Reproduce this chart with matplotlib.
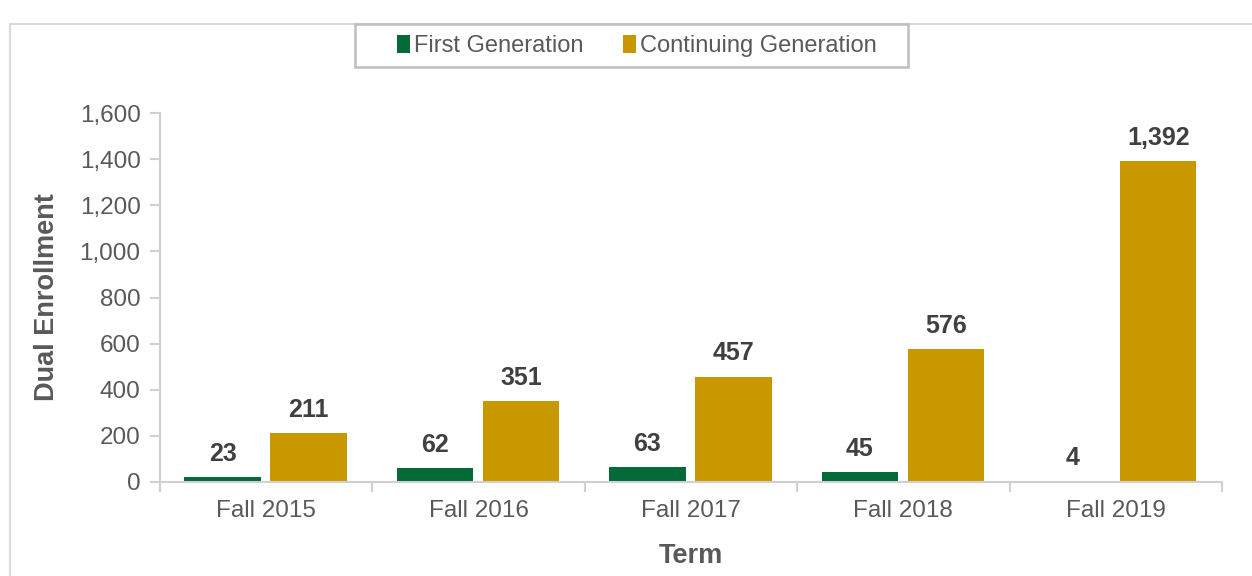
import matplotlib.pyplot as plt
import numpy as np
from matplotlib.patches import Rectangle

plt.rcParams['font.family'] = ['Liberation Sans', 'DejaVu Sans']

# данные
terms = ['Fall 2015', 'Fall 2016', 'Fall 2017', 'Fall 2018', 'Fall 2019']
first_gen = [23, 62, 63, 45, 4]
continuing_gen = [211, 351, 457, 576, 1392]

green = '#046A38'
gold = '#C99700'
grey_txt = '#595959'
dark_txt = '#404040'
axis_grey = '#D0D0D0'

W, H = 1252, 576
fig = plt.figure(figsize=(W / 100, H / 100), dpi=100)
ax = fig.add_axes([0.1278, 0.1632, 0.976 - 0.1278, 0.8038 - 0.1632])

# рамка вокруг диаграммы
fig.patches.append(Rectangle((10 / W, -0.01), 1.0, 1 - 24 / H + 0.01,
                             transform=fig.transFigure, fill=False,
                             edgecolor='#D9D9D9', linewidth=1.5))

x = np.arange(len(terms))
w = 0.36
b1 = ax.bar(x - 0.205, first_gen, w, color=green, label='First Generation')
b2 = ax.bar(x + 0.2, continuing_gen, w, color=gold, label='Continuing Generation')

for bars in (b1, b2):
    for rect in bars:
        h = rect.get_height()
        ax.annotate(f'{h:,}', (rect.get_x() + rect.get_width() / 2, h),
                    xytext=(0, 8), textcoords='offset points',
                    ha='center', va='bottom', fontsize=18, fontweight='bold',
                    color=dark_txt)

ax.set_xlim(-0.5, 4.5)
ax.set_ylim(0, 1600)
ax.set_yticks(range(0, 1601, 200))
ax.set_yticklabels([f'{v:,}' for v in range(0, 1601, 200)])
ax.set_xticks(x)
ax.set_xticklabels(terms)
ax.set_xticks(np.arange(-0.5, 5, 1), minor=True)
ax.tick_params(axis='x', which='major', length=0, pad=13, labelsize=17.5, labelcolor=grey_txt)
ax.tick_params(axis='x', which='minor', length=7, color=axis_grey, width=1.5)
ax.tick_params(axis='y', length=7, color=axis_grey, width=1.5, pad=7,
               labelsize=17.5, labelcolor=grey_txt)

for s in ['top', 'right']:
    ax.spines[s].set_visible(False)
for s in ['left', 'bottom']:
    ax.spines[s].set_color(axis_grey)
    ax.spines[s].set_linewidth(1.5)

ax.set_xlabel('Term', fontsize=19.5, fontweight='bold', color=grey_txt, labelpad=15)
ax.set_ylabel('Dual Enrollment', fontsize=19.5, fontweight='bold', color=grey_txt, labelpad=14)

# легенда без рамки + отдельная рамка пошире
leg = fig.legend(loc='center', bbox_to_anchor=(637 / W, 1 - 46 / H), ncol=2,
                 fontsize=17, frameon=False, handlelength=0.55,
                 handleheight=0.8, handletextpad=0.15, columnspacing=1.7)
for t in leg.get_texts():
    t.set_color(grey_txt)
fig.patches.append(Rectangle((355 / W, 1 - 67 / H), (908 - 355) / W, 43 / H,
                             transform=fig.transFigure, fill=False,
                             edgecolor='#BFBFBF', linewidth=1.8))

fig.savefig('out.png', dpi=100)
